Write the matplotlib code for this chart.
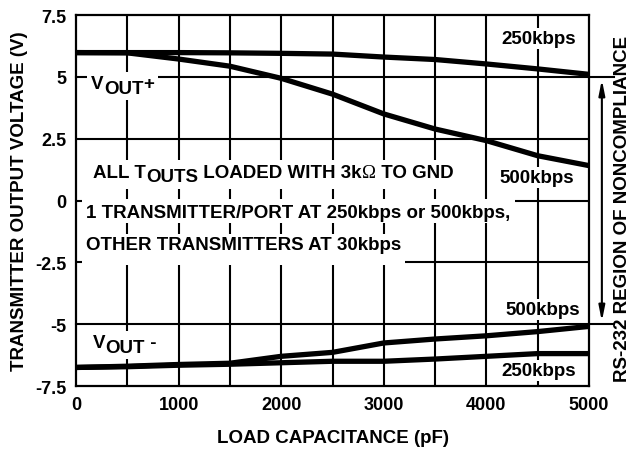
import matplotlib
matplotlib.use("Agg")
import matplotlib.pyplot as plt
from matplotlib.patches import Rectangle
from matplotlib.transforms import Bbox, blended_transform_factory

plt.rcParams['font.family'] = 'Liberation Sans'
plt.rcParams['font.weight'] = 'bold'

# load capacitance (pF) and measured output voltages (V)
cap_pf = [0, 500, 1000, 1500, 2000, 2500, 3000, 3500, 4000, 4500, 5000]
vpos_250k = [5.98, 5.98, 5.98, 5.97, 5.95, 5.92, 5.8, 5.7, 5.52, 5.32, 5.1]
vpos_500k = [5.98, 5.97, 5.72, 5.43, 4.94, 4.3, 3.5, 2.89, 2.42, 1.81, 1.41]
vneg_500k = [-6.75, -6.7, -6.63, -6.58, -6.3, -6.14, -5.76, -5.6, -5.47, -5.3, -5.09]
vneg_250k = [-6.75, -6.72, -6.66, -6.62, -6.56, -6.5, -6.5, -6.41, -6.3, -6.19, -6.19]

y_ticks = [-7.5, -5, -2.5, 0, 2.5, 5, 7.5]
y_tick_labels = ['-7.5', '-5', '-2.5', '0', '2.5', '5', '7.5']
x_ticks = [0, 1000, 2000, 3000, 4000, 5000]
rs232_limit = 5

FS = 13.5

fig = plt.figure(figsize=(6.31, 4.52), dpi=100)
ax = fig.add_axes([0.1204, 0.1438, 0.8131, 0.8208])
ax.set_xlim(0, 5000)
ax.set_ylim(-7.5, 7.5)

ax.set_xticks(x_ticks)
ax.set_xticklabels([str(v) for v in x_ticks])
ax.set_yticks(y_ticks)
ax.set_yticklabels(y_tick_labels)
ax.tick_params(length=0, labelsize=13, pad=7)
for lbl in ax.get_xticklabels() + ax.get_yticklabels():
    lbl.set_fontweight('bold')
for sp in ax.spines.values():
    sp.set_linewidth(1.6)

# grid every 500 pF / 2.5 V
for xv in range(500, 5000, 500):
    ax.axvline(xv, color='black', lw=1.5, zorder=1)
for yv in [-2.5, 0, 2.5]:
    ax.axhline(yv, color='black', lw=1.5, zorder=1)
# RS-232 limits run past the right edge
for yv in [rs232_limit, -rs232_limit]:
    ax.axhline(yv, xmin=0, xmax=1.048, color='black', lw=1.5, zorder=1, clip_on=False)

lw = 3.8
ax.plot(cap_pf, vpos_250k, color='black', lw=lw, zorder=4, solid_capstyle='butt')
ax.plot(cap_pf, vpos_500k, color='black', lw=lw, zorder=4, solid_capstyle='butt')
ax.plot(cap_pf, vneg_500k, color='black', lw=lw, zorder=4, solid_capstyle='butt')
ax.plot(cap_pf, vneg_250k, color='black', lw=lw, zorder=4, solid_capstyle='butt')

# double arrow for the non-compliance region
trans = blended_transform_factory(ax.transAxes, ax.transData)
ax.annotate('', xy=(1.025, -rs232_limit), xytext=(1.025, rs232_limit),
            xycoords=trans, textcoords=trans,
            arrowprops=dict(arrowstyle='<|-|>,head_length=0.9,head_width=0.18',
                            color='black', lw=1.5, shrinkA=2, shrinkB=2))
ax.text(1.065, 0.48, 'RS-232 REGION OF NONCOMPLIANCE', transform=ax.transAxes,
        rotation=90, ha='center', va='center', fontsize=FS, fontweight='bold')

ax.set_xlabel('LOAD CAPACITANCE (pF)', fontsize=FS, fontweight='bold', labelpad=12)
ax.set_ylabel('TRANSMITTER OUTPUT VOLTAGE (V)', fontsize=FS, fontweight='bold', labelpad=5)

labels = []


def rich_text(x, y, parts, pad=(3, 3, 2, 2)):
    """parts: (text, vertical shift in points relative to previous piece, family)"""
    arts = []
    first, _, fam = parts[0]
    t = ax.text(x, y, first, fontsize=FS, fontweight='bold', family=fam,
                ha='left', va='center', zorder=5)
    arts.append(t)
    for s, dy, fam in parts[1:]:
        t = ax.annotate(s, xy=(1, 0), xycoords=t, xytext=(0, dy),
                        textcoords='offset points', ha='left', va='bottom',
                        fontsize=FS, fontweight='bold' if fam == 'Liberation Sans' else 'normal',
                        family=fam, zorder=5)
        arts.append(t)
    labels.append((arts, pad))


S = 'Liberation Sans'
rich_text(4150, 6.57, [('250kbps', 0, S)])
rich_text(150, 4.72, [('V', 0, S), ('OUT', -3.5, S), ('+', 3.5, S)], pad=(4, 4, 3, 3))
rich_text(170, 1.15, [('ALL T', 0, S), ('OUTS', -3.5, S), (' LOADED WITH 3k', 3.5, S),
                      ('\u03a9', 0, 'Liberation Serif'), (' TO GND', 0, S)], pad=(4, 4, 4, 4))
rich_text(4130, 0.95, [('500kbps', 0, S)])
rich_text(100, -0.47, [('1 TRANSMITTER/PORT AT 250kbps or 500kbps,', 0, S)], pad=(4, 4, 2, 5))
rich_text(100, -1.76, [('OTHER TRANSMITTERS AT 30kbps', 0, S)], pad=(4, 4, 12, 2))
rich_text(4190, -4.39, [('500kbps', 0, S)])
rich_text(165, -5.76, [('V', 0, S), ('OUT', -3.5, S), (' -', 3.5, S)], pad=(4, 4, 3, 3))
rich_text(4150, -6.88, [('250kbps', 0, S)])

# white backing boxes behind the labels, sized from the rendered text
fig.canvas.draw()
renderer = fig.canvas.get_renderer()
inv = ax.transAxes.inverted()
for arts, (pl, pr, pb, pt) in labels:
    bb = Bbox.union([a.get_window_extent(renderer) for a in arts])
    x0, y0 = inv.transform((bb.x0 - pl, bb.y0 - pb))
    x1, y1 = inv.transform((bb.x1 + pr, bb.y1 + pt))
    ax.add_patch(Rectangle((x0, y0), x1 - x0, y1 - y0, transform=ax.transAxes,
                           facecolor='white', edgecolor='none', zorder=3))

fig.savefig('out.png', dpi=100)
